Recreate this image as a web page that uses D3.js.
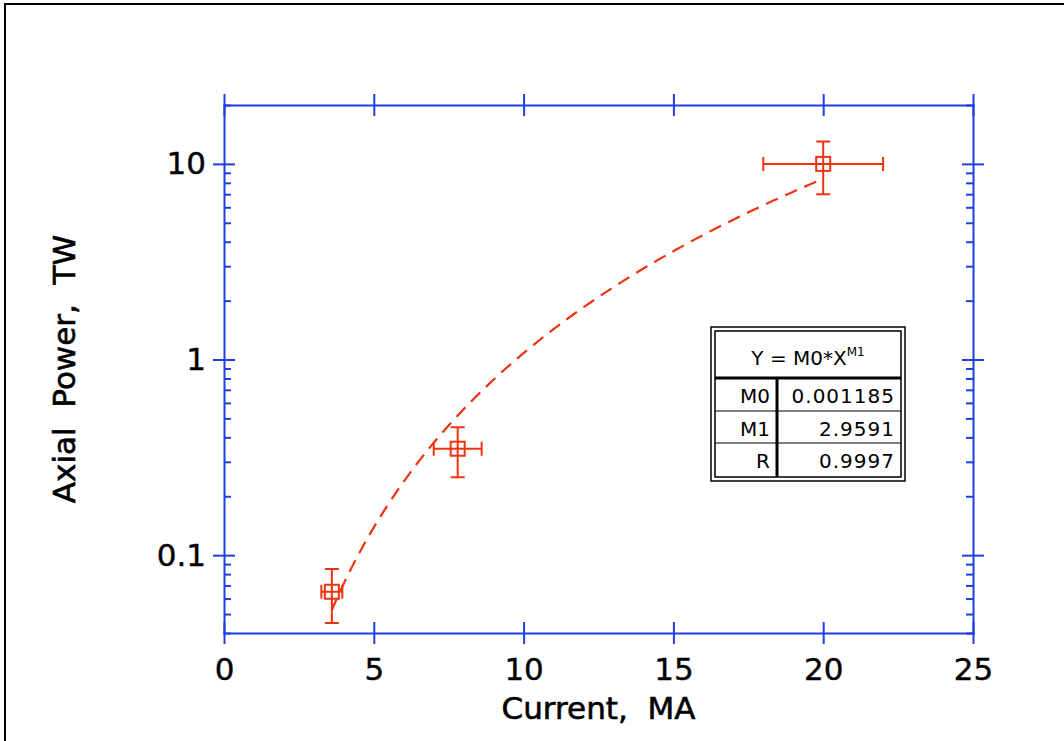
<!DOCTYPE html>
<meta charset="utf-8">
<style>
  body { margin: 0; background: #fff; }
  .axis path, .axis line { stroke: #1f3fe0; stroke-width: 2px; }
  .axis text { fill: #000; font-family: "DejaVu Sans", sans-serif; font-size: 31px; stroke: #000; stroke-width: 0.4px; }
  .axis-title { font-family: "DejaVu Sans", sans-serif; font-size: 31px; fill: #000; stroke: #000; stroke-width: 0.6px; }
  .fit-table text { font-family: "DejaVu Sans", sans-serif; font-size: 20px; fill: #000; }
  .errbar { stroke: #ee3311; stroke-width: 2px; fill: none; }
  .marker { stroke: #ee3311; stroke-width: 2px; fill: none; }
  .fit-line { stroke: #ee3311; stroke-width: 2.2px; fill: none; stroke-dasharray: 13,8; }
</style>
<body>
<div id="vis"></div>
<script src="https://cdn.jsdelivr.net/npm/d3@7/dist/d3.min.js"></script>
<script>

// data
const currentMA = [3.6, 7.8, 20];
const powerTW = [0.065, 0.35, 10];
const currentErr = [0.35, 0.8, 2];
const powerErr = [0.02, 0.1, 3];

// power-law fit Y = M0*X^M1
const fitNames = ['M0', 'M1', 'R'];
const fitValues = ['0.001185', '2.9591', '0.9997'];
const fitM0 = 0.001185, fitM1 = 2.9591;
const fitRange = [3.6, 20];

const xTicks = [0, 5, 10, 15, 20, 25];
const yTicks = [0.1, 1, 10];
const yTickLabels = ['0.1', '1', '10'];

const width = 1064, height = 741;
const plot = {l: 224, r: 973, t: 105, b: 633};

const svg = d3.select('#vis').append('svg')
    .attr('width', width)
    .attr('height', height);

// outer frame
svg.append('rect')
    .attr('x', 5).attr('y', 4)
    .attr('width', width + 20).attr('height', height + 20)
    .style('fill', 'none').style('stroke', '#000').style('stroke-width', 2);

let x = d3.scaleLinear().domain([0, 25]).range([plot.l, plot.r]);
let y = d3.scaleLog().domain([0.04, 20]).range([plot.b, plot.t]);

let minorY = y.ticks().filter(v => !yTicks.some(t => Math.abs(t - v) < 1e-9));

const majorCross = (g, vertical) => {
  g.selectAll('.tick line')
    .attr(vertical ? 'x1' : 'y1', -11)
    .attr(vertical ? 'x2' : 'y2', 11);
};

// bottom
let gb = svg.append('g').attr('class', 'axis')
    .attr('transform', 'translate(0,' + plot.b + ')')
    .call(d3.axisBottom(x).tickValues(xTicks).tickSize(11).tickSizeOuter(0).tickPadding(14).tickFormat(d3.format('d')));
majorCross(gb, false);
gb.selectAll('text').attr('dy', '0.71em');

// top
let gt = svg.append('g').attr('class', 'axis')
    .attr('transform', 'translate(0,' + plot.t + ')')
    .call(d3.axisTop(x).tickValues(xTicks).tickSize(11).tickSizeOuter(0).tickFormat(''));
majorCross(gt, false);

// left
let gl = svg.append('g').attr('class', 'axis')
    .attr('transform', 'translate(' + plot.l + ',0)')
    .call(d3.axisLeft(y).tickValues(yTicks).tickSize(11).tickSizeOuter(0).tickPadding(8)
      .tickFormat((d, i) => yTickLabels[i]));
majorCross(gl, true);
gl.selectAll('text').attr('x', -18);
svg.append('g').attr('class', 'axis')
    .attr('transform', 'translate(' + plot.l + ',0)')
    .call(d3.axisLeft(y).tickValues(minorY).tickSize(-7).tickSizeOuter(0).tickFormat(''))
    .select('.domain').remove();

// right
let gr = svg.append('g').attr('class', 'axis')
    .attr('transform', 'translate(' + plot.r + ',0)')
    .call(d3.axisRight(y).tickValues(yTicks).tickSize(11).tickSizeOuter(0).tickFormat(''));
majorCross(gr, true);
svg.append('g').attr('class', 'axis')
    .attr('transform', 'translate(' + plot.r + ',0)')
    .call(d3.axisRight(y).tickValues(minorY).tickSize(-7).tickSizeOuter(0).tickFormat(''))
    .select('.domain').remove();

svg.selectAll('.axis .domain').style('stroke-linecap', 'square');

// axis titles
svg.append('text')
    .attr('class', 'axis-title')
    .attr('x', (plot.l + plot.r) / 2)
    .attr('y', 719)
    .style('text-anchor', 'middle')
    .style('white-space', 'pre')
    .text('Current,  MA');
svg.append('text')
    .attr('class', 'axis-title')
    .attr('transform', 'translate(75,' + 369 + ') rotate(-90)')
    .style('text-anchor', 'middle')
    .style('white-space', 'pre')
    .text('Axial  Power,  TW');

// fit curve
let fitPts = d3.range(0, 101).map(i => {
  let cx = fitRange[0] + (fitRange[1] - fitRange[0]) * i / 100;
  return [cx, fitM0 * Math.pow(cx, fitM1)];
});
svg.append('path')
    .attr('class', 'fit-line')
    .attr('d', d3.line().x(d => x(d[0])).y(d => y(d[1]))(fitPts));

// data points with error bars
let pts = currentMA.map((c, i) => ({x: c, y: powerTW[i], ex: currentErr[i], ey: powerErr[i]}));
let pg = svg.append('g').selectAll('g').data(pts).enter().append('g');
const cap = 7;
pg.append('path')
    .attr('class', 'errbar')
    .attr('d', d => {
      let x0 = x(d.x - d.ex), x1 = x(d.x + d.ex), cx = x(d.x), cy = y(d.y);
      let y0 = y(d.y - d.ey), y1 = y(d.y + d.ey);
      return 'M' + x0 + ',' + cy + 'H' + x1
        + 'M' + x0 + ',' + (cy - cap) + 'V' + (cy + cap)
        + 'M' + x1 + ',' + (cy - cap) + 'V' + (cy + cap)
        + 'M' + cx + ',' + y0 + 'V' + y1
        + 'M' + (cx - cap) + ',' + y0 + 'H' + (cx + cap)
        + 'M' + (cx - cap) + ',' + y1 + 'H' + (cx + cap);
    });
pg.append('rect')
    .attr('class', 'marker')
    .attr('x', d => x(d.x) - 7)
    .attr('y', d => y(d.y) - 7)
    .attr('width', 14)
    .attr('height', 14);

// fit results table
let tb = svg.append('g').attr('class', 'fit-table');
tb.append('rect').attr('x', 711).attr('y', 327).attr('width', 194).attr('height', 154)
    .style('fill', '#fff').style('stroke', '#000').style('stroke-width', 1.5);
tb.append('rect').attr('x', 715).attr('y', 331).attr('width', 186).attr('height', 146)
    .style('fill', 'none').style('stroke', '#000').style('stroke-width', 1.5);
let rowY = [378, 411, 443, 477];
tb.append('line').attr('x1', 715).attr('x2', 901).attr('y1', rowY[0]).attr('y2', rowY[0])
    .style('stroke', '#000').style('stroke-width', 3);
[rowY[1], rowY[2]].forEach(ry => {
  tb.append('line').attr('x1', 715).attr('x2', 901).attr('y1', ry).attr('y2', ry)
    .style('stroke', '#000').style('stroke-width', 1);
});
tb.append('line').attr('x1', 777).attr('x2', 777).attr('y1', rowY[0]).attr('y2', rowY[3])
    .style('stroke', '#000').style('stroke-width', 3);
let hdr = tb.append('text').attr('x', 808).attr('y', 365).style('text-anchor', 'middle');
hdr.append('tspan').text('Y = M0*X');
hdr.append('tspan').attr('dy', -9).style('font-size', '12px').text('M1');
fitNames.forEach((n, i) => {
  tb.append('text').attr('x', 770).attr('y', rowY[i] + 25).style('text-anchor', 'end').text(n);
  tb.append('text').attr('x', 895).attr('y', rowY[i] + 25).style('text-anchor', 'end')
    .style('letter-spacing', '1px').text(fitValues[i]);
});

</script>
</body>
